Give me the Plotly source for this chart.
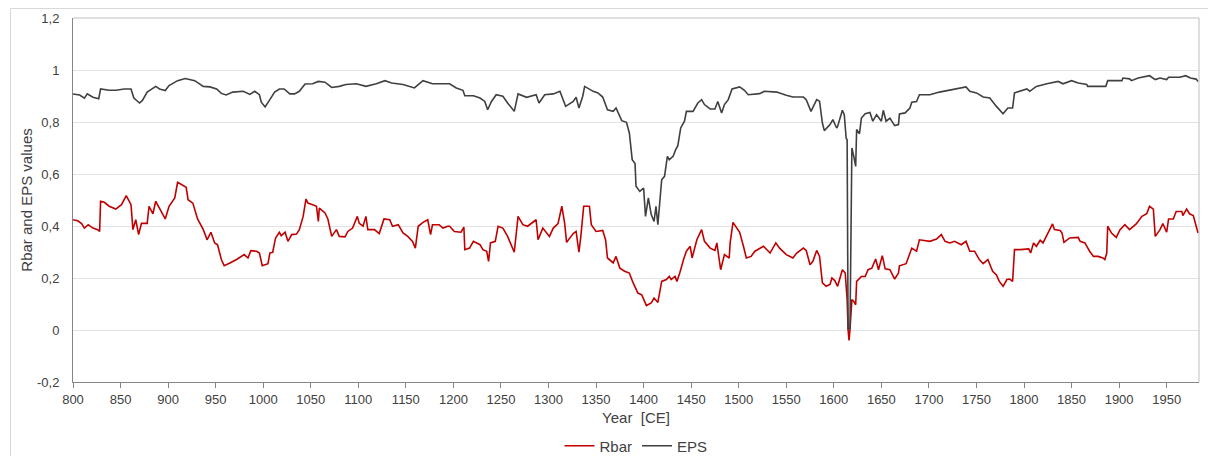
import plotly.graph_objects as go

# ---- data ----
years_rbar = [800, 805, 809, 812, 816, 821, 826, 828, 829, 833, 838, 845, 851, 856, 861, 863, 866, 869, 872, 878,
              880, 884, 887, 893, 897, 901, 907, 910, 916, 919, 921, 926, 931, 937, 941, 945, 949, 952, 956, 959,
              965, 972, 980, 984, 987, 993, 996, 999, 1005, 1007, 1010, 1013, 1017, 1019, 1023, 1026, 1030, 1035,
              1038, 1042, 1045, 1047, 1052, 1056, 1058, 1059, 1065, 1068, 1072, 1077, 1080, 1086, 1089, 1094, 1099,
              1101, 1105, 1108, 1110, 1117, 1122, 1127, 1133, 1136, 1142, 1147, 1152, 1157, 1160, 1163, 1168, 1173,
              1176, 1178, 1185, 1189, 1194, 1196, 1201, 1208, 1211, 1212, 1217, 1221, 1228, 1231, 1235, 1237, 1239,
              1244, 1247, 1252, 1257, 1264, 1268, 1273, 1278, 1287, 1289, 1294, 1301, 1305, 1310, 1314, 1317, 1319,
              1326, 1329, 1332, 1334, 1337, 1343, 1345, 1350, 1357, 1360, 1362, 1368, 1371, 1375, 1380, 1385, 1389,
              1394, 1398, 1403, 1408, 1411, 1415, 1419, 1424, 1427, 1429, 1433, 1435, 1438, 1442, 1445, 1449, 1451,
              1456, 1461, 1464, 1470, 1475, 1477, 1481, 1485, 1490, 1491, 1494, 1498, 1501, 1505, 1508, 1513, 1517,
              1526, 1533, 1539, 1543, 1550, 1557, 1561, 1568, 1571, 1575, 1578, 1582, 1585, 1588, 1592, 1596, 1598,
              1601, 1604, 1609, 1612, 1614, 1615, 1616, 1617, 1619, 1621, 1623, 1624, 1629, 1633, 1636, 1640, 1644,
              1647, 1651, 1654, 1659, 1664, 1668, 1669, 1676, 1682, 1687, 1690, 1701, 1708, 1713, 1717, 1722, 1727,
              1734, 1739, 1743, 1748, 1753, 1757, 1762, 1767, 1771, 1774, 1778, 1782, 1785, 1788, 1790, 1796, 1801,
              1805, 1807, 1810, 1813, 1817, 1820, 1824, 1827, 1830, 1832, 1838, 1840, 1842, 1848, 1857, 1859, 1864,
              1869, 1873, 1878, 1883, 1885, 1887, 1888, 1892, 1897, 1901, 1906, 1911, 1918, 1924, 1929, 1932, 1936,
              1938, 1943, 1946, 1950, 1952, 1957, 1960, 1966, 1967, 1971, 1974, 1978, 1981, 1983]
rbar = [0.424, 0.420, 0.409, 0.392, 0.405, 0.392, 0.386, 0.379, 0.495, 0.491, 0.476, 0.465, 0.482, 0.517, 0.482,
        0.386, 0.424, 0.367, 0.410, 0.410, 0.476, 0.447, 0.495, 0.456, 0.427, 0.476, 0.508, 0.568, 0.553, 0.549,
        0.501, 0.488, 0.427, 0.386, 0.347, 0.376, 0.335, 0.328, 0.271, 0.247, 0.258, 0.271, 0.290, 0.277, 0.305,
        0.303, 0.296, 0.247, 0.255, 0.296, 0.299, 0.354, 0.376, 0.363, 0.376, 0.341, 0.367, 0.369, 0.386, 0.437,
        0.504, 0.488, 0.482, 0.476, 0.418, 0.469, 0.450, 0.427, 0.360, 0.386, 0.360, 0.358, 0.379, 0.392, 0.437,
        0.410, 0.399, 0.437, 0.386, 0.386, 0.371, 0.427, 0.424, 0.399, 0.405, 0.373, 0.360, 0.341, 0.315, 0.399,
        0.414, 0.424, 0.367, 0.405, 0.405, 0.392, 0.399, 0.399, 0.379, 0.376, 0.396, 0.309, 0.315, 0.341, 0.328,
        0.309, 0.303, 0.264, 0.335, 0.341, 0.399, 0.392, 0.360, 0.299, 0.437, 0.405, 0.399, 0.424, 0.347, 0.392,
        0.360, 0.392, 0.409, 0.476, 0.410, 0.337, 0.371, 0.379, 0.299, 0.360, 0.476, 0.476, 0.405, 0.379, 0.383,
        0.347, 0.277, 0.258, 0.283, 0.238, 0.226, 0.219, 0.181, 0.142, 0.135, 0.094, 0.104, 0.123, 0.106, 0.187,
        0.194, 0.206, 0.194, 0.206, 0.187, 0.219, 0.271, 0.303, 0.322, 0.277, 0.347, 0.386, 0.341, 0.315, 0.306,
        0.335, 0.232, 0.290, 0.277, 0.335, 0.414, 0.392, 0.376, 0.322, 0.277, 0.283, 0.303, 0.322, 0.296, 0.335,
        0.315, 0.290, 0.277, 0.296, 0.315, 0.306, 0.251, 0.264, 0.306, 0.283, 0.181, 0.168, 0.175, 0.200, 0.190,
        0.168, 0.232, 0.219, 0.117, 0.001, -0.040, 0.001, 0.117, 0.110, 0.097, 0.187, 0.206, 0.206, 0.232, 0.238,
        0.273, 0.232, 0.286, 0.235, 0.232, 0.196, 0.219, 0.247, 0.255, 0.315, 0.303, 0.347, 0.341, 0.350, 0.367,
        0.341, 0.335, 0.341, 0.328, 0.341, 0.303, 0.303, 0.271, 0.255, 0.271, 0.226, 0.212, 0.187, 0.168, 0.194,
        0.196, 0.187, 0.309, 0.309, 0.312, 0.312, 0.296, 0.335, 0.322, 0.345, 0.335, 0.367, 0.388, 0.408, 0.386,
        0.383, 0.373, 0.337, 0.354, 0.356, 0.341, 0.335, 0.303, 0.283, 0.283, 0.277, 0.271, 0.296, 0.399, 0.373,
        0.356, 0.386, 0.405, 0.386, 0.408, 0.437, 0.447, 0.476, 0.465, 0.360, 0.386, 0.409, 0.376, 0.427, 0.427,
        0.456, 0.456, 0.440, 0.465, 0.447, 0.440, 0.399, 0.373]

years_eps = [800, 807, 812, 815, 821, 827, 829, 838, 845, 854, 861, 864, 870, 873, 878, 887, 891, 897, 901, 910,
             918, 928, 937, 944, 951, 956, 961, 968, 979, 986, 991, 996, 998, 1002, 1007, 1012, 1017, 1022, 1028,
             1033, 1038, 1044, 1052, 1058, 1065, 1072, 1080, 1087, 1098, 1108, 1119, 1128, 1135, 1147, 1159, 1168,
             1178, 1193, 1196, 1203, 1210, 1212, 1221, 1228, 1233, 1236, 1240, 1245, 1252, 1257, 1264, 1268, 1277,
             1287, 1290, 1296, 1305, 1312, 1318, 1326, 1329, 1332, 1336, 1338, 1347, 1352, 1357, 1362, 1368, 1371,
             1377, 1382, 1385, 1388, 1391, 1392, 1396, 1400, 1402, 1405, 1408, 1411, 1413, 1415, 1417, 1419, 1422,
             1425, 1427, 1431, 1434, 1436, 1439, 1443, 1445, 1452, 1457, 1461, 1464, 1470, 1475, 1478, 1482, 1485,
             1489, 1493, 1501, 1506, 1510, 1522, 1527, 1540, 1550, 1557, 1568, 1571, 1576, 1582, 1585, 1588, 1590,
             1596, 1599, 1603, 1604, 1609, 1611, 1613, 1614, 1615, 1617, 1619, 1621, 1623, 1624, 1627, 1629, 1633,
             1638, 1641, 1645, 1650, 1652, 1655, 1659, 1664, 1668, 1669, 1675, 1680, 1682, 1687, 1690, 1701, 1711,
             1722, 1731, 1739, 1743, 1750, 1757, 1764, 1771, 1778, 1783, 1788, 1790, 1796, 1803, 1806, 1813, 1824,
             1831, 1836, 1841, 1850, 1857, 1866, 1867, 1876, 1886, 1888, 1903, 1904, 1911, 1913, 1920, 1932, 1938,
             1943, 1950, 1952, 1964, 1970, 1975, 1981, 1983]
eps = [0.908, 0.904, 0.892, 0.908, 0.895, 0.889, 0.927, 0.922, 0.922, 0.927, 0.927, 0.892, 0.873, 0.883, 0.915,
       0.937, 0.927, 0.921, 0.940, 0.959, 0.967, 0.959, 0.937, 0.935, 0.927, 0.910, 0.904, 0.915, 0.918, 0.906,
       0.918, 0.905, 0.876, 0.858, 0.886, 0.915, 0.927, 0.927, 0.908, 0.908, 0.918, 0.946, 0.947, 0.956, 0.953,
       0.933, 0.937, 0.944, 0.947, 0.937, 0.947, 0.959, 0.950, 0.944, 0.931, 0.959, 0.947, 0.947, 0.947, 0.931,
       0.922, 0.901, 0.901, 0.892, 0.879, 0.847, 0.879, 0.905, 0.899, 0.873, 0.841, 0.908, 0.895, 0.905, 0.873,
       0.905, 0.908, 0.918, 0.860, 0.879, 0.895, 0.854, 0.899, 0.937, 0.918, 0.912, 0.896, 0.847, 0.841, 0.854,
       0.805, 0.799, 0.758, 0.655, 0.640, 0.553, 0.533, 0.546, 0.437, 0.508, 0.444, 0.418, 0.476, 0.405, 0.495,
       0.578, 0.591, 0.668, 0.655, 0.668, 0.696, 0.709, 0.777, 0.803, 0.841, 0.841, 0.873, 0.886, 0.867, 0.850,
       0.850, 0.879, 0.835, 0.867, 0.886, 0.927, 0.935, 0.922, 0.905, 0.909, 0.918, 0.915, 0.903, 0.896, 0.896,
       0.886, 0.841, 0.886, 0.880, 0.796, 0.767, 0.790, 0.809, 0.777, 0.783, 0.845, 0.828, 0.738, 0.732, 0.005,
       0.005, 0.700, 0.668, 0.629, 0.771, 0.755, 0.815, 0.832, 0.837, 0.803, 0.828, 0.803, 0.845, 0.803, 0.815,
       0.786, 0.790, 0.831, 0.835, 0.854, 0.876, 0.879, 0.905, 0.905, 0.915, 0.922, 0.927, 0.935, 0.918, 0.912,
       0.896, 0.892, 0.860, 0.832, 0.854, 0.854, 0.912, 0.920, 0.927, 0.918, 0.937, 0.947, 0.953, 0.956, 0.947,
       0.959, 0.950, 0.944, 0.937, 0.937, 0.937, 0.959, 0.959, 0.969, 0.966, 0.959, 0.969, 0.978, 0.963, 0.969,
       0.963, 0.972, 0.972, 0.978, 0.969, 0.965, 0.956]

x_tick_vals = list(range(800, 2000, 50))
y_tick_vals = [-0.2, 0, 0.2, 0.4, 0.6, 0.8, 1, 1.2]
y_tick_text = ["-0,2", "0", "0,2", "0,4", "0,6", "0,8", "1", "1,2"]

FONT = "Liberation Sans, Arial, sans-serif"

fig = go.Figure()
fig.add_trace(go.Scatter(x=years_rbar, y=rbar, mode="lines", name="Rbar",
                         line=dict(color="#C00000", width=1.6)))
fig.add_trace(go.Scatter(x=years_eps, y=eps, mode="lines", name="EPS",
                         line=dict(color="#404040", width=1.6)))

# the page body adds an 8px offset, so the figure is sized to fit inside the window
OFF = 8
W, H = 1216 - OFF, 456 - OFF
ml, mr, mt, mb = 73 - OFF, 17, 18 - OFF, 74
pw, ph = W - ml - mr, H - mt - mb


def px_x(p):  # page pixel -> paper x
    return (p - OFF - ml) / pw


def px_y(p):  # page pixel -> paper y
    return (H - mb - (p - OFF)) / ph


fig.update_layout(
    width=W, height=H,
    margin=dict(l=ml, r=mr, t=mt, b=mb, autoexpand=False),
    paper_bgcolor="white", plot_bgcolor="white",
    font=dict(family=FONT, size=13, color="#404040"),
    showlegend=True,
    legend=dict(orientation="h", x=0.5, xanchor="center", y=px_y(446), yanchor="middle",
                font=dict(size=15, color="#404040"), itemwidth=30, tracegroupgap=0,
                bgcolor="rgba(0,0,0,0)"),
    xaxis=dict(range=[800, 1984], tickvals=x_tick_vals, showgrid=False, zeroline=False,
               showline=True, linecolor="#868686", linewidth=1,
               ticks="outside", ticklen=5, tickcolor="#868686",
               tickfont=dict(size=13, color="#404040"),
               title=dict(text="Year  [CE]", font=dict(size=15, color="#404040"), standoff=6)),
    yaxis=dict(range=[-0.2, 1.2], tickvals=y_tick_vals, ticktext=y_tick_text,
               showgrid=True, gridcolor="#e3e3e3", gridwidth=1, zeroline=False,
               showline=True, linecolor="#868686", linewidth=1, ticks="",
               ticklabelstandoff=10,
               tickfont=dict(size=13, color="#404040"),
               title=dict(text="Rbar and EPS values", font=dict(size=15, color="#404040"), standoff=0)),
    shapes=[
        # top and right plot-area border
        dict(type="line", xref="paper", yref="paper", x0=0, x1=1, y0=1, y1=1,
             line=dict(color="#bfbfbf", width=1)),
        dict(type="line", xref="paper", yref="paper", x0=1, x1=1, y0=0, y1=1,
             line=dict(color="#bfbfbf", width=1)),
        # outer chart-area border (left edge; top edge sits at the figure's top)
        dict(type="rect", xref="paper", yref="paper", x0=px_x(10.5), x1=px_x(1240), y0=px_y(480),
             y1=px_y(OFF + 0.5), line=dict(color="#d9d9d9", width=1), layer="below"),
    ],
)

fig.write_html("out.html")
